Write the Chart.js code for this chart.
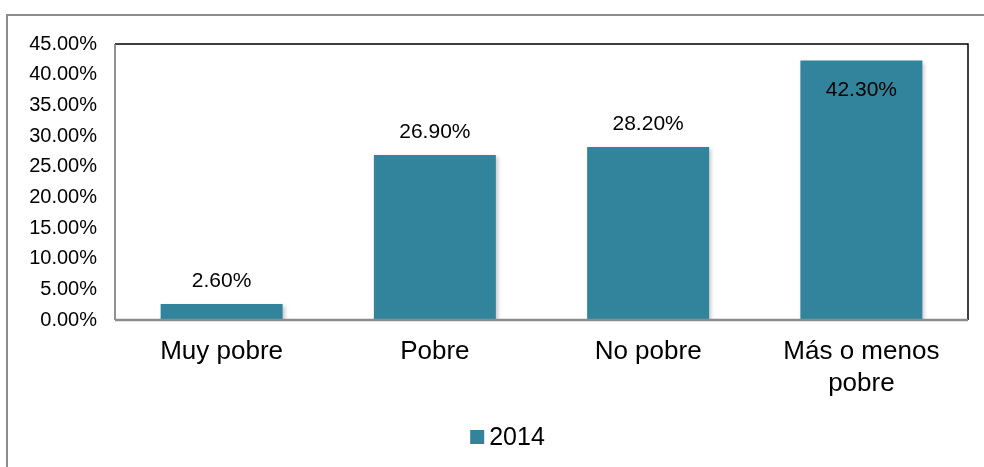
<!DOCTYPE html>
<html>
<head>
<meta charset="utf-8">
<script src="https://cdn.jsdelivr.net/npm/chart.js@4/dist/chart.umd.min.js"></script>
<style>
  body { margin: 0; background: #fff; }
  #frame { position: absolute; left: 6px; top: 14px; width: 1000px; height: 480px; border: 2px solid #8c8c8c; }
  #wrap { position: absolute; left: 0; top: 0; width: 984px; height: 467px; }
</style>
</head>
<body>
<div id="frame"></div>
<div id="wrap"><canvas id="chart" width="984" height="467"></canvas></div>
<script>
// Poverty self-perception chart, 2014

const categories = ['Muy pobre', 'Pobre', 'No pobre', ['Más o menos', 'pobre']];
const values2014 = [2.6, 26.9, 28.2, 42.3];
const seriesName = '2014';
const yTicks = [0, 5, 10, 15, 20, 25, 30, 35, 40, 45];

const barColor = '#31849b';
const fontFamily = '"Liberation Sans", Arial, sans-serif';

// draws plot frame, bar shadow, value labels and the legend
const excelLook = {
    id: 'excelLook',
    beforeDatasetsDraw(chart) {
        const ctx = chart.ctx;
        ctx.save();
        ctx.shadowColor = 'rgba(0,0,0,0.22)';
        ctx.shadowBlur = 4;
        ctx.shadowOffsetX = 2;
        ctx.shadowOffsetY = 2;
    },
    afterDatasetsDraw(chart) {
        const ctx = chart.ctx;
        ctx.restore();
        const a = chart.chartArea;

        // plot frame
        ctx.save();
        ctx.strokeStyle = '#000';
        ctx.lineWidth = 1.5;
        ctx.beginPath();
        ctx.moveTo(a.left, a.top);
        ctx.lineTo(a.right, a.top);
        ctx.lineTo(a.right, a.bottom);
        ctx.stroke();
        ctx.strokeStyle = '#6e6e6e';
        ctx.beginPath();
        ctx.moveTo(a.left, a.top);
        ctx.lineTo(a.left, a.bottom);
        ctx.stroke();
        ctx.strokeStyle = '#8c8c8c';
        ctx.lineWidth = 2.5;
        ctx.beginPath();
        ctx.moveTo(a.left, a.bottom);
        ctx.lineTo(a.right, a.bottom);
        ctx.stroke();

        // value labels (inside the bar when there is no room above)
        ctx.fillStyle = '#000';
        ctx.font = '21px ' + fontFamily;
        ctx.textAlign = 'center';
        ctx.textBaseline = 'middle';
        const meta = chart.getDatasetMeta(0);
        meta.data.forEach((bar, i) => {
            const txt = values2014[i].toFixed(2) + '%';
            let y = bar.y - 23;
            if (y - 11 < a.top) y = bar.y + 30;
            ctx.fillText(txt, bar.x, y);
        });

        // legend
        const cx = (a.left + a.right) / 2 - 34;
        const ly = a.bottom + 117;
        ctx.font = '25px ' + fontFamily;
        const tw = ctx.measureText(seriesName).width;
        const box = 14, gap = 5;
        const startX = cx - (box + gap + tw) / 2;
        ctx.fillStyle = barColor;
        ctx.fillRect(startX, ly - box / 2, box, box);
        ctx.fillStyle = '#000';
        ctx.textAlign = 'left';
        ctx.fillText(seriesName, startX + box + gap, ly + 1);
        ctx.restore();
    }
};

const ctx = document.getElementById('chart').getContext('2d');

new Chart(ctx, {
    type: 'bar',
    data: {
        labels: categories,
        datasets: [{
            label: seriesName,
            data: values2014,
            backgroundColor: barColor,
            borderWidth: 0,
            categoryPercentage: 1,
            barPercentage: 0.572
        }]
    },
    options: {
        responsive: false,
        animation: false,
        layout: { padding: { left: 0, right: 16, top: 44, bottom: 0 } },
        scales: {
            x: {
                grid: { display: false, drawTicks: false },
                border: { display: false },
                ticks: {
                    color: '#000',
                    padding: 16,
                    maxRotation: 0,
                    font: { family: fontFamily, size: 26, lineHeight: 1.23 }
                },
                afterFit(scale) { scale.height = 147; }
            },
            y: {
                min: 0,
                max: 45,
                afterBuildTicks(scale) { scale.ticks = yTicks.map(v => ({ value: v })); },
                grid: { display: false, drawTicks: false },
                border: { display: false },
                ticks: {
                    color: '#000',
                    padding: 18,
                    font: { family: fontFamily, size: 20 },
                    callback: v => v.toFixed(2) + '%'
                },
                afterFit(scale) { scale.width = 115; }
            }
        },
        plugins: {
            legend: { display: false },
            tooltip: { enabled: false }
        }
    },
    plugins: [excelLook]
});
</script>
</body>
</html>
